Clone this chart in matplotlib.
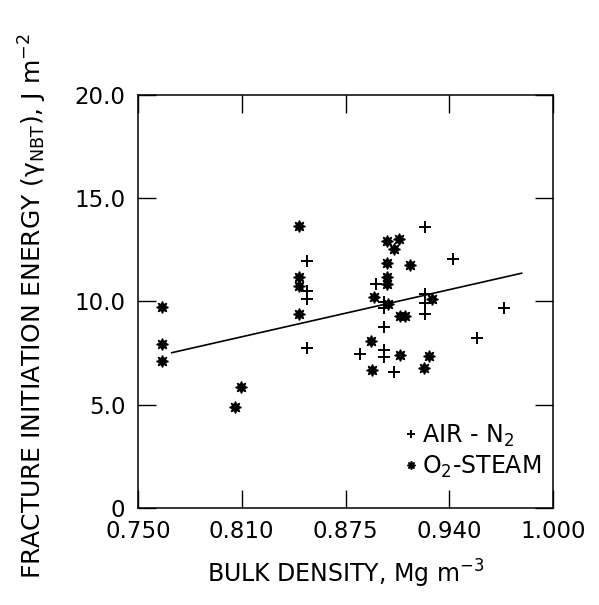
import numpy as np
import matplotlib
matplotlib.use("Agg")
import matplotlib.pyplot as plt

plt.rcParams['font.family'] = ['DejaVu Sans']
plt.rcParams['mathtext.default'] = 'regular'

# AIR-N2 samples (bulk density, fracture initiation energy)
air_x = [0.852, 0.852, 0.852, 0.852, 0.923, 0.940, 0.8935, 0.898, 0.898, 0.923,
         0.923, 0.923, 0.9706, 0.898, 0.954, 0.8835, 0.898, 0.898, 0.904]
air_y = [11.95, 10.49, 10.11, 7.77, 13.61, 12.07, 10.86, 9.99, 9.67, 10.34,
         9.95, 9.40, 9.69, 8.78, 8.22, 7.47, 7.65, 7.33, 6.59]

# O2-STEAM samples
steam_x = [0.7646, 0.7646, 0.7645, 0.812, 0.8083, 0.847, 0.8468, 0.8468, 0.8468,
           0.9002, 0.907, 0.9042, 0.9002, 0.9139, 0.9002, 0.9002, 0.8923, 0.9006,
           0.9078, 0.9108, 0.9273, 0.8902, 0.9081, 0.8911, 0.9253, 0.9223]
steam_y = [9.73, 7.93, 7.12, 5.86, 4.89, 13.68, 11.20, 10.75, 9.40,
           12.91, 13.04, 12.54, 11.86, 11.75, 11.20, 10.85, 10.22, 9.86,
           9.31, 9.31, 10.11, 8.11, 7.42, 6.67, 7.35, 6.80]

# fitted line end points
fit_x = [0.7703, 0.9811]
fit_y = [7.52, 11.37]

xticks = [0.75, 0.8125, 0.875, 0.9375, 1.0]
xlabels = ["0.750", "0.810", "0.875", "0.940", "1.000"]
yticks = [0, 5, 10, 15, 20]
ylabels = ["0", "5.0", "10.0", "15.0", "20.0"]

fig = plt.figure(figsize=(5.99, 6.05), dpi=100)
ax = fig.add_axes([138/599, 97/605, 415/599, 413/605])

star = (8, 1, 0)
ax.plot(air_x, air_y, linestyle='none', marker='+', color='black',
        markersize=9, markeredgewidth=1.4, label='AIR - N$_2$')
ax.plot(steam_x, steam_y, linestyle='none', marker=star, color='black',
        markersize=8.5, label='O$_2$-STEAM')
ax.plot(fit_x, fit_y, color='black', linewidth=1.2)

ax.set_xlim(0.75, 1.0)
ax.set_ylim(0, 20)
ax.set_xticks(xticks)
ax.set_xticklabels(xlabels)
ax.set_yticks(yticks)
ax.set_yticklabels(ylabels)
ax.tick_params(direction='in', length=13, width=1, top=True, right=True,
               labelsize=16.5, pad=9)
for s in ax.spines.values():
    s.set_linewidth(1.1)

ax.set_xlabel("BULK DENSITY, Mg m$^{-3}$", fontsize=17)
ax.xaxis.set_label_coords(0.5, -0.12)
ax.set_ylabel(r"FRACTURE INITIATION ENERGY ($\gamma_{NBT}$), J m$^{-2}$", fontsize=18)
ax.yaxis.set_label_coords(-0.215, 0.49)

ax.legend(loc='lower right', frameon=False, fontsize=17, handlelength=0.4,
          handletextpad=0.25, markerscale=0.7, labelspacing=0.2,
          borderaxespad=0.1, bbox_to_anchor=(1.0, 0.04))

fig.savefig("out.png", dpi=100)
